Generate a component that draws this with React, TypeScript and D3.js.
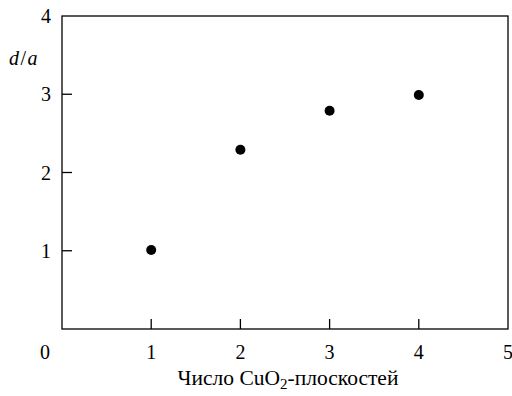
import React from "react";
import * as d3 from "d3";

const planes = [1, 2, 3, 4];
const ratio = [1.01, 2.29, 2.79, 2.99];
const xTicks = [1, 2, 3, 4, 5];
const yTicks = [1, 2, 3, 4];

const W = 512, H = 396;
const M = { left: 62, right: 4, top: 16, bottom: 67 };

export default function App() {
  const x = d3.scaleLinear().domain([0, 5]).range([M.left, W - M.right]);
  const y = d3.scaleLinear().domain([0, 4]).range([H - M.bottom, M.top]);
  const font = "Liberation Serif, Times New Roman, serif";
  const tick = 10;
  const ts = { fontFamily: font, fontSize: 20 };
  return (
    <svg width={W} height={H} style={{ position: "absolute", left: 0, top: 0 }}>
      <rect x={x(0)} y={y(4)} width={x(5) - x(0)} height={y(0) - y(4)} fill="none" stroke="#000" strokeWidth={1.3} />
      {xTicks.filter(t => t < 5).map(t => (
        <line key={"xt" + t} x1={x(t)} x2={x(t)} y1={y(0)} y2={y(0) - tick} stroke="#000" strokeWidth={1.3} />
      ))}
      {yTicks.filter(t => t < 4).map(t => (
        <line key={"yt" + t} x1={x(0)} x2={x(0) + tick} y1={y(t)} y2={y(t)} stroke="#000" strokeWidth={1.3} />
      ))}
      {xTicks.map(t => (
        <text key={"xl" + t} x={x(t)} y={y(0) + 30} textAnchor="middle" style={ts}>{t}</text>
      ))}
      <text x={x(0) - 17} y={y(0) + 30} textAnchor="middle" style={ts}>0</text>
      {yTicks.map(t => (
        <text key={"yl" + t} x={x(0) - 11} y={y(t) + 7} textAnchor="end" style={ts}>{t}</text>
      ))}
      <text x={9} y={65} style={ts}>
        <tspan fontStyle="italic">d</tspan>
        <tspan dx={1.5}>/</tspan>
        <tspan dx={1.5} fontStyle="italic">a</tspan>
      </text>
      <text x={(x(0) + x(5)) / 2 + 3} y={385} textAnchor="middle" style={{ ...ts, fontSize: 21.5 }}>
        Число CuO<tspan dy={4} fontSize={15}>2</tspan><tspan dy={-4}>-плоскостей</tspan>
      </text>
      {planes.map((p, i) => (
        <circle key={"p" + i} cx={x(p)} cy={y(ratio[i])} r={5} fill="#000" />
      ))}
    </svg>
  );
}
